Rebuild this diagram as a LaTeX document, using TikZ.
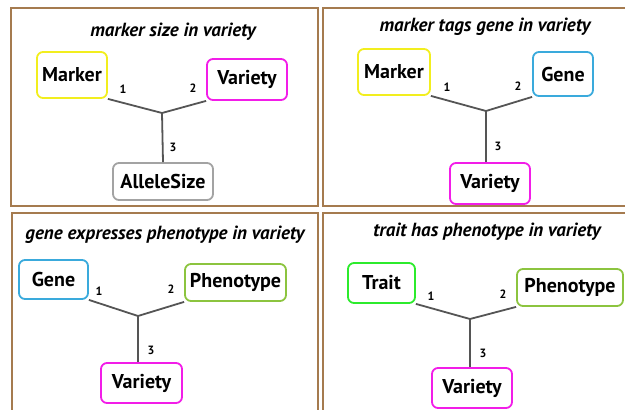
\documentclass[tikz,border=0pt]{standalone}
\usepackage{fontspec}
\setmainfont{PT Sans}
\usepackage{tikz}
\usetikzlibrary{calc}

\definecolor{frameBrown}{HTML}{A57B4F}
\definecolor{markerYellow}{HTML}{F2EE1E}
\definecolor{varietyMagenta}{HTML}{F21DE8}
\definecolor{alleleGrey}{HTML}{A3A3A3}
\definecolor{geneBlue}{HTML}{3AAADC}
\definecolor{phenoGreen}{HTML}{8CC43F}
\definecolor{traitGreen}{HTML}{2CEB2C}
\definecolor{linkGrey}{HTML}{555555}

\begin{document}
\begin{tikzpicture}[x=1pt,y=-1pt] % RELATIONS
    \tikzset{%
        frame/.style={draw=frameBrown,line width=2.5pt},
        entity/.style={draw,rounded corners=6pt,line width=1.8pt,inner sep=0pt,
                font=\fontsize{20}{24}\selectfont\bfseries},
        link/.style={draw=linkGrey,line width=1.8pt},
        role/.style={inner sep=0pt,font=\fontsize{12}{14}\selectfont\bfseries},
        caption/.style={inner sep=0pt,font=\fontsize{19}{23}\selectfont\bfseries\itshape}
    }
    %% some definitions

    \def\W{625} % picture width
    \def\H{410} % picture height

    \useasboundingbox (0,0) rectangle (\W,\H);

    %% draw the four frames

    \begin{scope}
        \clip (0,0) rectangle (\W,\H);
        \draw[frame] (11,8) rectangle (318,206);
        \draw[frame] (323,8) rectangle (640,206);
        \draw[frame] (12,213) rectangle (318,425);
        \draw[frame] (323,213) rectangle (640,425);
    \end{scope}

    %% marker size in variety

    \node[caption] (t1) at (173,32) {marker size in variety};
    \node[entity,draw=markerYellow,minimum width=70pt,minimum height=46pt] (m1) at (72,75) {Marker};
    \node[entity,draw=varietyMagenta,minimum width=80pt,minimum height=41pt] (v1) at (247,79.5) {Variety};
    \node[entity,draw=alleleGrey,minimum width=100pt,minimum height=37pt] (a1) at (163,181.5) {AlleleSize};
    \coordinate (j1) at (162,113);
    \draw[link] (m1.south east) -- (j1) -- (v1.south west);
    \draw[link] (j1) -- (a1.north);
    \node[role] (r11) at (123,89) {1};
    \node[role] (r12) at (193,88) {2};
    \node[role] (r13) at (173,147) {3};

    %% marker tags gene in variety

    \node[caption] (t2) at (485,27) {marker tags gene in variety};
    \node[entity,draw=markerYellow,minimum width=72pt,minimum height=46pt] (m2) at (394,72) {Marker};
    \node[entity,draw=geneBlue,minimum width=60pt,minimum height=44pt] (g2) at (563,74) {Gene};
    \node[entity,draw=varietyMagenta,minimum width=80pt,minimum height=41pt] (v2) at (490,183.5) {Variety};
    \coordinate (j2) at (486,111);
    \draw[link] (m2.south east) -- (j2) -- (g2.south west);
    \draw[link] (j2) -- (v2.north -| j2);
    \node[role] (r21) at (447,87) {1};
    \node[role] (r22) at (518,86) {2};
    \node[role] (r23) at (498,146) {3};

    %% gene expresses phenotype in variety

    \node[caption] (t3) at (165,235) {gene expresses phenotype in variety};
    \node[entity,draw=geneBlue,minimum width=69pt,minimum height=39pt] (g3) at (53.5,279.5) {Gene};
    \node[entity,draw=phenoGreen,minimum width=101pt,minimum height=37pt] (p3) at (235.5,282.5) {Phenotype};
    \node[entity,draw=varietyMagenta,minimum width=81pt,minimum height=40pt] (v3) at (141.5,383) {Variety};
    \coordinate (j3) at (138,316);
    \draw[link] (g3.south east) -- (j3) -- (p3.south west);
    \draw[link] (j3) -- (v3.north -| j3);
    \node[role] (r31) at (99,291) {1};
    \node[role] (r32) at (171,289) {2};
    \node[role] (r33) at (151,350) {3};

    %% trait has phenotype in variety

    \node[caption] (t4) at (487,232) {trait has phenotype in variety};
    \node[entity,draw=traitGreen,minimum width=67pt,minimum height=40pt] (tr4) at (381.5,283) {Trait};
    \node[entity,draw=phenoGreen,minimum width=106pt,minimum height=37pt] (p4) at (570,287.5) {Phenotype};
    \node[entity,draw=varietyMagenta,minimum width=80pt,minimum height=40pt] (v4) at (472,388) {Variety};
    \coordinate (j4) at (470,319);
    \draw[link] (tr4.south east) -- (j4) -- (p4.south west);
    \draw[link] (j4) -- (v4.north -| j4);
    \node[role] (r41) at (431,296) {1};
    \node[role] (r42) at (503,294) {2};
    \node[role] (r43) at (483,353) {3};
\end{tikzpicture}
\end{document}
